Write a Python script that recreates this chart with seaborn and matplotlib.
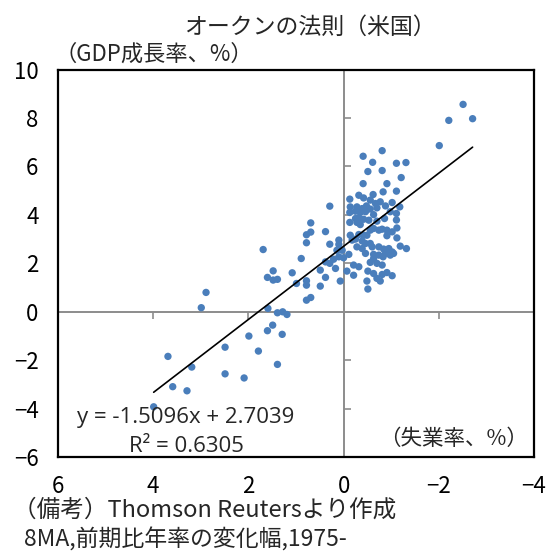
import matplotlib
matplotlib.use("Agg")
import matplotlib.pyplot as plt
import seaborn as sns
import pandas as pd
import numpy as np

# ---- data: change in unemployment rate (x) vs change in GDP growth (y) ----
unemp_low = [0.29, 0.69, 0.78, 0.69, 0.78, 0.38, 0.29, 0.89, 1.69, 1.48,
             1.60, 1.48, 1.39, 1.08, 0.99, 0.78, 0.78, 0.49, 0.29, 0.38,
             0.49, 0.38, 0.78, 0.69, 2.89, 2.99, 1.59, 1.39, 1.28, 1.19,
             1.49, 1.60, 1.99, 1.29, 2.49, 1.79, 1.39, 3.69, 3.19, 2.49,
             2.09, 3.59, 3.29, 3.99]
gdp_low = [4.36, 3.67, 3.18, 3.29, 2.85, 3.31, 2.79, 2.20, 2.57, 1.69,
           1.42, 1.31, 1.34, 1.61, 1.17, 1.28, 1.10, 1.72, 2.00, 2.06,
           1.06, 1.42, 0.48, 0.59, 0.80, 0.17, 0.14, -0.04, 0.00, -0.11,
           -0.55, -0.78, -1.00, -0.93, -1.46, -1.62, -2.17, -1.84, -2.28, -2.56,
           -2.73, -3.09, -3.26, -3.92]

unemp_high = [-2.51, -2.21, -2.71, -2.01, -0.81, -0.41, -0.61, -1.11, -1.31, -0.51,
              -0.81, -1.21, -0.41, -0.91]
gdp_high = [8.56, 7.90, 7.97, 6.86, 6.65, 6.42, 6.17, 6.13, 6.16, 5.79,
            5.83, 5.54, 5.29, 5.29]

unemp_mid = [-0.83, -1.11, -0.32, -0.42, -0.62, -0.13, -0.56, -0.77, -1.02, -0.67,
             -0.14, -0.28, -0.39, -0.48, -0.56, -0.70, -0.88, -1.18, -0.13, -0.25,
             -0.35, -0.46, -0.63, -0.98, -1.11, -0.25, -0.32, -0.42, -0.53, -0.70,
             -0.86, -1.11, -0.13, -0.28, -0.35, -0.63, -0.81, -0.91, -1.02, -1.12,
             -0.74, -0.56, -0.42, -0.49, -0.32, -0.14, -1.12, -0.91, 0.10, 0.10,
             -0.18, -0.25, -0.39, -0.46, -0.56, -0.28, -0.39, -0.60, -0.74, -0.84,
             -0.95, -1.02, -1.19, -1.32, 0.14, 0.03, -0.11, -0.46, -0.63, -0.74,
             -0.88, -0.98, -1.05, 0.10, 0.00, 0.21, -0.63, -0.83, -0.56, -0.70,
             -0.81, -0.21, -0.32, 0.17, -0.07, -0.51, -0.63, -0.81, -0.91, -1.02,
             -0.21, -0.70, 0.07, -0.49, -0.77, -0.51]
gdp_mid = [4.95, 4.98, 4.81, 4.70, 4.84, 4.65, 4.61, 4.54, 4.51, 4.47,
           4.33, 4.33, 4.26, 4.37, 4.24, 4.29, 4.37, 4.33, 4.10, 4.15,
           4.10, 4.13, 4.01, 4.13, 4.06, 3.85, 3.88, 3.82, 3.78, 3.74,
           3.85, 3.79, 3.69, 3.69, 3.60, 3.44, 3.41, 3.37, 3.30, 3.46,
           3.37, 3.37, 3.16, 3.16, 3.19, 3.16, 3.05, 3.14, 2.96, 2.78,
           2.96, 3.00, 2.92, 2.82, 2.82, 2.68, 2.61, 2.68, 2.68, 2.59,
           2.61, 2.47, 2.71, 2.61, 2.54, 2.54, 2.37, 2.41, 2.37, 2.34,
           2.41, 2.34, 2.41, 2.27, 2.23, 2.17, 2.20, 2.27, 2.04, 2.00,
           1.93, 1.93, 1.86, 1.79, 1.68, 1.68, 1.58, 1.54, 1.62, 1.49,
           1.51, 1.38, 1.27, 1.27, 1.27, 0.94]

slope = -1.5096
intercept = 2.7039
r_squared = 0.6305

x_ticks = [6, 4, 2, 0, -2, -4]
y_ticks = [-6, -4, -2, 0, 2, 4, 6, 8, 10]

title = "オークンの法則（米国）"
y_unit = "（GDP成長率、%）"
x_unit = "（失業率、%）"
note1 = "（備考）Thomson Reutersより作成"
note2 = "8MA,前期比年率の変化幅,1975-"

# ---- style ----
sns.set_theme(style="white")
plt.rcParams['font.family'] = ['Noto Sans CJK JP', 'DejaVu Sans']
plt.rcParams['axes.unicode_minus'] = True

W, H = 549, 552
fig = plt.figure(figsize=(W / 100, H / 100), dpi=100)
fig.patch.set_facecolor('white')
ax = fig.add_axes([58 / W, 1 - 457.2 / H, (534 - 58) / W, (457.2 - 69.5) / H])

df = pd.DataFrame({'unemp': unemp_low + unemp_high + unemp_mid,
                   'gdp': gdp_low + gdp_high + gdp_mid})

sns.scatterplot(data=df, x='unemp', y='gdp', ax=ax, color='#4A7EBB', s=28,
                edgecolor='none', linewidth=0, zorder=3)

xr = np.array([df['unemp'].max(), df['unemp'].min()])
fit = pd.DataFrame({'unemp': xr, 'gdp': slope * xr + intercept})
sns.lineplot(data=fit, x='unemp', y='gdp', ax=ax, color='black', linewidth=1.2,
             zorder=4, sort=False)

ax.set_xlim(x_ticks[0], x_ticks[-1])
ax.set_ylim(y_ticks[0], y_ticks[-1])
ax.set_xticks(x_ticks)
ax.set_yticks(y_ticks)
ax.set_xlabel('')
ax.set_ylabel('')
ax.tick_params(axis='both', length=0, labelsize=16, colors='black')
ax.tick_params(axis='x', pad=13)
ax.tick_params(axis='y', pad=14)
for sp in ax.spines.values():
    sp.set_visible(True)
    sp.set_color('black')
    sp.set_linewidth(1.6)
    sp.set_zorder(5)

# zero axes (gray) with tick marks
x0 = ax.get_xlim()
y0 = ax.get_ylim()
fx = (0 - x0[0]) / (x0[1] - x0[0])
fy = (0 - y0[0]) / (y0[1] - y0[0])

secx = ax.secondary_xaxis(fy)
secx.set_alignment('bottom')
secx.set_xticks(x_ticks)
secx.tick_params(axis='x', direction='out', length=5, width=1.2, color='#8C8C8C',
                 labelbottom=False, labeltop=False, bottom=True)
secx.spines['bottom'].set_color('#8C8C8C')
secx.spines['bottom'].set_linewidth(1.4)

secy = ax.secondary_yaxis(fx)
secy.set_alignment('right')
secy.set_yticks(y_ticks)
secy.tick_params(axis='y', direction='out', length=5, width=1.2, color='#8C8C8C',
                 labelright=False, labelleft=False, right=True)
secy.spines['right'].set_color('#8C8C8C')
secy.spines['right'].set_linewidth(1.4)

# texts
fig.text(310 / W, 1 - 27 / H, title, ha='center', va='center', fontsize=16.5)
fig.text(55 / W, 1 - 54 / H, y_unit, ha='left', va='center', fontsize=16)
fig.text(528 / W, 1 - 439 / H, x_unit, ha='right', va='center', fontsize=15.5)
fig.text(186 / W, 1 - 423 / H, f"y = {slope}x + {intercept}", ha='center',
         va='baseline', fontsize=16, family=['Open Sans', 'DejaVu Sans'])
fig.text(186 / W, 1 - 452 / H, f"R² = {r_squared}", ha='center',
         va='baseline', fontsize=16, family=['Open Sans', 'DejaVu Sans'])
fig.text(13 / W, 1 - 510 / H, note1, ha='left', va='center', fontsize=17)
fig.text(24 / W, 1 - 540 / H, note2, ha='left', va='center', fontsize=16.5)

fig.savefig('out.png', dpi=100, facecolor='white')
